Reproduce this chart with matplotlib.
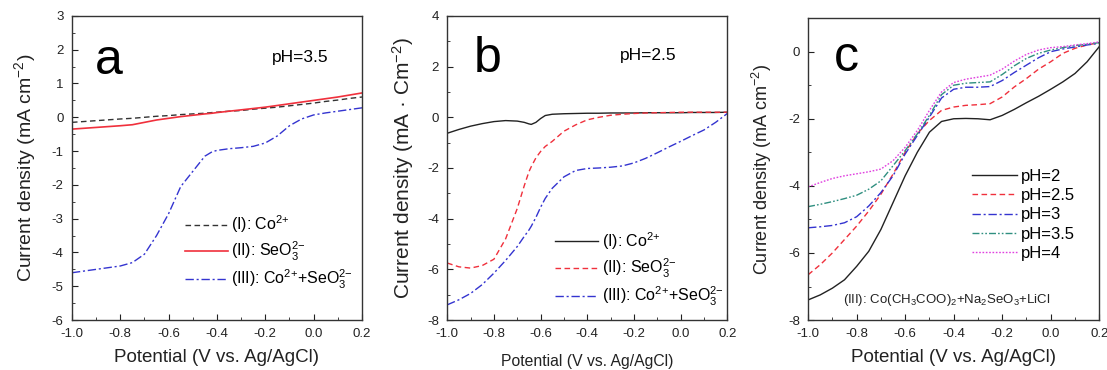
import numpy as np
import matplotlib
matplotlib.use("Agg")
import matplotlib.pyplot as plt
from matplotlib.ticker import MultipleLocator

plt.rcParams['font.family'] = ['Liberation Sans', 'DejaVu Sans']
plt.rcParams['mathtext.default'] = 'regular'

# panel a, pH 3.5
xa = [-1.0, -0.9, -0.8, -0.75, -0.7, -0.65, -0.6, -0.55, -0.5, -0.45, -0.42, -0.4,
      -0.35, -0.3, -0.25, -0.2, -0.15, -0.1, -0.05, 0.0, 0.05, 0.1, 0.15, 0.2]
a_co = [-0.15, -0.1, -0.05, -0.03, 0.0, 0.03, 0.05, 0.08, 0.1, 0.12, 0.14, 0.15,
        0.18, 0.2, 0.24, 0.27, 0.3, 0.34, 0.38, 0.42, 0.47, 0.51, 0.56, 0.6]
a_se = [-0.35, -0.3, -0.25, -0.22, -0.15, -0.08, -0.03, 0.02, 0.06, 0.1, 0.12, 0.14,
        0.18, 0.22, 0.26, 0.3, 0.35, 0.4, 0.45, 0.5, 0.55, 0.6, 0.66, 0.72]
a_mix = [-4.6, -4.5, -4.4, -4.3, -4.05, -3.5, -2.85, -2.05, -1.6, -1.15, -1.02, -0.98,
         -0.93, -0.9, -0.86, -0.76, -0.55, -0.25, -0.05, 0.07, 0.13, 0.18, 0.23, 0.28]

# panel b, pH 2.5
xb = [-1.0, -0.95, -0.9, -0.85, -0.8, -0.75, -0.7, -0.67, -0.65, -0.64, -0.62, -0.6,
      -0.58, -0.55, -0.5, -0.45, -0.4, -0.35, -0.3, -0.25, -0.2, -0.15, -0.1, -0.05,
      0.0, 0.05, 0.1, 0.15, 0.2]
b_co = [-0.63, -0.48, -0.35, -0.25, -0.17, -0.13, -0.15, -0.2, -0.26, -0.28, -0.2, -0.05,
        0.07, 0.12, 0.14, 0.15, 0.16, 0.16, 0.17, 0.17, 0.17, 0.18, 0.18, 0.18,
        0.18, 0.19, 0.19, 0.19, 0.2]
b_se = [-5.75, -5.9, -5.95, -5.85, -5.6, -4.8, -3.6, -2.7, -2.15, -1.95, -1.6, -1.35,
        -1.15, -0.95, -0.55, -0.3, -0.1, 0.0, 0.08, 0.12, 0.15, 0.17, 0.18, 0.19,
        0.2, 0.2, 0.2, 0.2, 0.2]
b_mix = [-7.4, -7.2, -6.95, -6.6, -6.15, -5.65, -5.1, -4.7, -4.45, -4.3, -3.95, -3.55,
         -3.2, -2.8, -2.35, -2.1, -2.02, -2.0, -1.97, -1.92, -1.8, -1.62, -1.4, -1.17,
         -0.95, -0.72, -0.5, -0.2, 0.15]

# panel c, mixed solution at several pH
xc = [-1.0, -0.95, -0.9, -0.85, -0.8, -0.75, -0.7, -0.65, -0.6, -0.55, -0.5, -0.45,
      -0.4, -0.35, -0.3, -0.25, -0.2, -0.15, -0.1, -0.05, 0.0, 0.05, 0.1, 0.15, 0.2]
c_ph2 = [-7.4, -7.25, -7.05, -6.8, -6.4, -5.95, -5.3, -4.5, -3.7, -3.0, -2.4, -2.08,
         -2.0, -1.99, -2.0, -2.03, -1.9, -1.72, -1.52, -1.33, -1.12, -0.9, -0.65, -0.3, 0.15]
c_ph25 = [-6.65, -6.35, -6.0, -5.6, -5.2, -4.75, -4.25, -3.65, -3.0, -2.45, -2.05, -1.75,
          -1.65, -1.6, -1.58, -1.55, -1.35, -1.05, -0.8, -0.52, -0.3, -0.05, 0.1, 0.2, 0.27]
c_ph3 = [-5.25, -5.22, -5.18, -5.1, -4.92, -4.6, -4.2, -3.7, -3.05, -2.5, -1.95, -1.38,
         -1.12, -1.06, -1.06, -1.04, -0.86, -0.62, -0.4, -0.18, 0.0, 0.08, 0.14, 0.2, 0.25]
c_ph35 = [-4.62, -4.55, -4.47, -4.38, -4.28, -4.1, -3.85, -3.4, -2.95, -2.45, -1.9, -1.28,
          -1.0, -0.94, -0.92, -0.9, -0.68, -0.42, -0.2, -0.05, 0.05, 0.12, 0.18, 0.22, 0.27]
c_ph4 = [-4.03, -3.9, -3.78, -3.7, -3.64, -3.58, -3.5, -3.25, -2.85, -2.35, -1.75, -1.2,
         -0.92, -0.82, -0.76, -0.7, -0.52, -0.28, -0.08, 0.05, 0.12, 0.15, 0.2, 0.24, 0.29]

red = '#f0303c'
blue = '#3434d0'
teal = '#2f8f80'
pink = '#e040e0'
dash = (0, (4, 2.5))
dashdot = (0, (6, 2, 1.5, 2))
dashdotdot = (0, (5, 1.5, 1.2, 1.5, 1.2, 1.5))
dot = (0, (1.2, 1.2))

co = 'Co$^{2{+}}$'
se = 'SeO$_3^{2{-}}$'

fig = plt.figure(figsize=(11.07, 3.70), dpi=100)
ax1 = fig.add_axes([0.065, 0.135, 0.262, 0.822])
ax2 = fig.add_axes([0.404, 0.135, 0.253, 0.822])
ax3 = fig.add_axes([0.730, 0.135, 0.263, 0.816])


def style(ax, ylo, yhi, ymaj, ymin):
    ax.set_xlim(-1.0, 0.2)
    ax.set_ylim(ylo, yhi)
    ax.xaxis.set_major_locator(MultipleLocator(0.2))
    ax.xaxis.set_minor_locator(MultipleLocator(0.1))
    ax.yaxis.set_major_locator(MultipleLocator(ymaj))
    ax.yaxis.set_minor_locator(MultipleLocator(ymin))
    ax.tick_params(which='both', direction='in', labelsize=9.5, colors='#222222')
    ax.tick_params(which='major', length=4)
    ax.tick_params(which='minor', length=2)
    ax.tick_params(axis='x', which='major', pad=6)
    ax.tick_params(axis='y', which='major', pad=6)
    ax.xaxis.set_major_formatter(plt.FuncFormatter(lambda v, p: '%.1f' % v))
    ax.yaxis.set_major_formatter(plt.FuncFormatter(lambda v, p: '%d' % v))
    for s in ax.spines.values():
        s.set_color('#333333')
        s.set_linewidth(1.0)


# panel a
ax1.plot(xa, a_co, color='#333333', lw=1.0, ls=dash, label='(I): ' + co)
ax1.plot(xa, a_se, color=red, lw=1.2, label='(II): ' + se)
ax1.plot(xa, a_mix, color=blue, lw=1.0, ls=dashdot, label='(III): ' + co + '+' + se)
style(ax1, -6, 3, 1, 0.5)
ax1.set_xlabel('Potential (V vs. Ag/AgCl)', fontsize=13.5, color='#222222', labelpad=6)
ax1.set_ylabel('Current density (mA cm$^{-2}$)', fontsize=14, color='#222222', labelpad=10)
ax1.text(0.08, 0.81, 'a', transform=ax1.transAxes, fontsize=36)
ax1.text(0.69, 0.85, 'pH=3.5', transform=ax1.transAxes, fontsize=12.5)
ax1.legend(loc='upper left', bbox_to_anchor=(0.39, 0.35), frameon=False, fontsize=11.5,
           handlelength=2.7, handletextpad=0.2, labelspacing=0.3,
           borderpad=0, borderaxespad=0)

# panel b
ax2.plot(xb, b_co, color='#222222', lw=1.0, label='(I): ' + co)
ax2.plot(xb, b_se, color=red, lw=1.0, ls=dash, label='(II): ' + se)
ax2.plot(xb, b_mix, color=blue, lw=1.0, ls=dashdot, label='(III): ' + co + '+' + se)
style(ax2, -8, 4, 2, 1)
ax2.set_xlabel('Potential (V vs. Ag/AgCl)', fontsize=11.3, color='#222222', labelpad=10)
ax2.set_ylabel('Current density (mA \u00b7 Cm$^{-2}$)', fontsize=15, color='#222222', labelpad=8)
ax2.text(0.093, 0.815, 'b', transform=ax2.transAxes, fontsize=36)
ax2.text(0.618, 0.855, 'pH=2.5', transform=ax2.transAxes, fontsize=12.5)
ax2.legend(loc='upper left', bbox_to_anchor=(0.386, 0.295), frameon=False, fontsize=11.5,
           handlelength=2.7, handletextpad=0.2, labelspacing=0.3,
           borderpad=0, borderaxespad=0)

# panel c
ax3.plot(xc, c_ph2, color='#222222', lw=1.0, label='pH=2')
ax3.plot(xc, c_ph25, color=red, lw=1.0, ls=dash, label='pH=2.5')
ax3.plot(xc, c_ph3, color=blue, lw=1.0, ls=dashdot, label='pH=3')
ax3.plot(xc, c_ph35, color=teal, lw=1.0, ls=dashdotdot, label='pH=3.5')
ax3.plot(xc, c_ph4, color=pink, lw=1.0, ls=dot, label='pH=4')
style(ax3, -8, 1, 2, 1)
ax3.set_xlabel('Potential (V vs. Ag/AgCl)', fontsize=13.5, color='#222222', labelpad=6)
ax3.set_ylabel('Current density (mA cm$^{-2}$)', fontsize=13, color='#222222', labelpad=10)
ax3.text(0.09, 0.825, 'c', transform=ax3.transAxes, fontsize=36)
ax3.text(0.12, 0.055, '(III): Co(CH$_3$COO)$_2$+Na$_2$SeO$_3$+LiCl',
         transform=ax3.transAxes, fontsize=9.5, color='#222222')
ax3.legend(loc='upper left', bbox_to_anchor=(0.564, 0.5), frameon=False, fontsize=12,
           handlelength=2.7, handletextpad=0.2, labelspacing=0.25,
           borderpad=0, borderaxespad=0)

fig.savefig('out.png', dpi=100)
